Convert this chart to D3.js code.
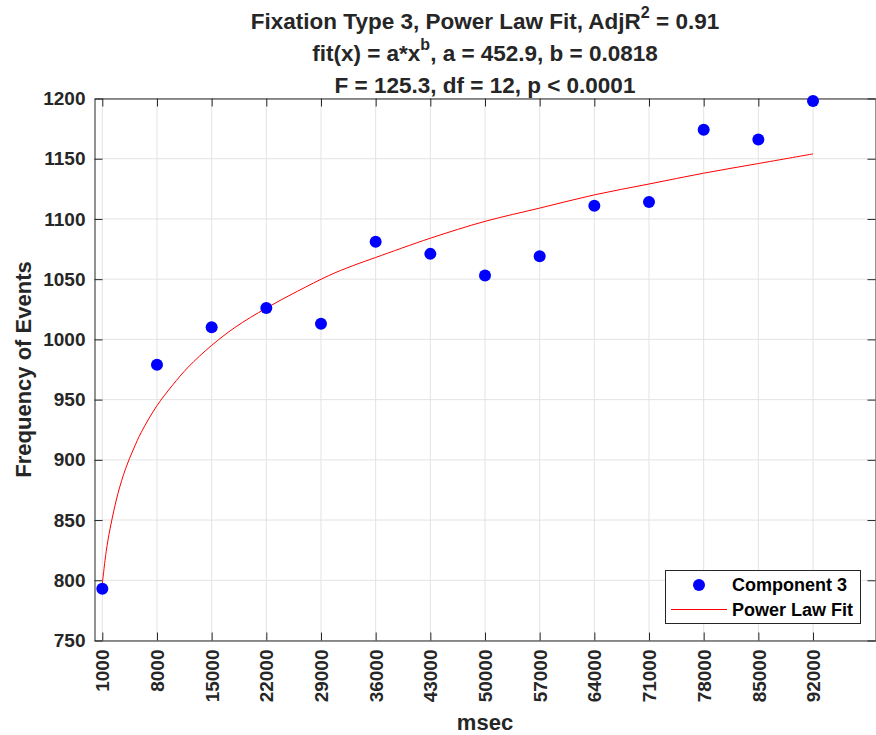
<!DOCTYPE html>
<html>
<head>
<meta charset="utf-8">
<script src="https://cdn.jsdelivr.net/npm/d3@7"></script>
<style>
    body { margin: 0; background: #fff; }
    text { font-family: "Liberation Sans", Arial, sans-serif; font-weight: bold; fill: #262626; }
</style>
</head>
<body>
<svg id="chart" width="876" height="735"></svg>
<script>

// observed points (msec, count)
var xValues = [1000, 8000, 15000, 22000, 29000, 36000, 43000, 50000, 57000, 64000, 71000, 78000, 85000, 92000];
var yValues = [793, 979, 1010, 1026, 1013, 1081, 1071, 1053, 1069, 1111, 1114, 1174, 1166, 1198];

// fitted curve
var fitX = [1000, 1500, 2000, 3000, 4000, 5000, 6000, 8000, 10000, 12000, 15000, 18000, 22000, 26000, 30000, 33000, 36000, 43000, 50000, 57000, 64000, 71000, 78000, 85000, 92000];
var fitY = [797, 824, 843, 872, 893, 909, 923, 945, 962, 977, 995, 1010, 1026, 1040, 1053, 1061, 1068, 1084, 1098, 1109, 1120, 1129, 1138, 1146, 1154];

var yTicks = [750, 800, 850, 900, 950, 1000, 1050, 1100, 1150, 1200];
var titleLines = ["Fixation Type 3, Power Law Fit, AdjR", "fit(x) = a*x", "F = 125.3, df = 12, p < 0.0001"];

function drawChart() {
    var svg = d3.select("#chart");

    var plotLeft = 94.5, plotRight = 875.5, plotTop = 98.5, plotBottom = 640.5;
    var tickLen = 8;

    var xScale = d3.scaleLinear().domain([0, 100000]).range([plotLeft, plotRight]);
    var yScale = d3.scaleLinear().domain([750, 1200]).range([plotBottom, plotTop]);

    // grid
    var grid = svg.append("g");
    grid.selectAll("line.vg")
        .data(xValues)
        .enter()
        .append("line")
        .attr("x1", function(d) { return xScale(d); })
        .attr("x2", function(d) { return xScale(d); })
        .attr("y1", plotTop)
        .attr("y2", plotBottom)
        .attr("stroke", "#e3e3e3");
    grid.selectAll("line.hg")
        .data(yTicks)
        .enter()
        .append("line")
        .attr("y1", function(d) { return yScale(d); })
        .attr("y2", function(d) { return yScale(d); })
        .attr("x1", plotLeft)
        .attr("x2", plotRight)
        .attr("stroke", "#e3e3e3");

    // axes (ticks inward, box on)
    var xAxis = svg.append("g")
        .attr("transform", "translate(0," + plotBottom + ")")
        .call(d3.axisBottom(xScale).tickValues(xValues).tickSizeInner(-tickLen).tickSizeOuter(0).tickFormat(d3.format("d")));
    xAxis.selectAll("text")
        .attr("transform", "rotate(-90)")
        .attr("text-anchor", "end")
        .attr("x", -9)
        .attr("y", 0)
        .attr("dy", "0.35em")
        .style("font-size", "19px");

    svg.append("g")
        .attr("transform", "translate(0," + plotTop + ")")
        .call(d3.axisTop(xScale).tickValues(xValues).tickSizeInner(-tickLen).tickSizeOuter(0).tickFormat(""));

    var yAxis = svg.append("g")
        .attr("transform", "translate(" + plotLeft + ",0)")
        .call(d3.axisLeft(yScale).tickValues(yTicks).tickSizeInner(-tickLen).tickSizeOuter(0).tickFormat(d3.format("d")));
    yAxis.selectAll("text")
        .attr("x", -9)
        .style("font-size", "19px");

    svg.append("g")
        .attr("transform", "translate(" + plotRight + ",0)")
        .call(d3.axisRight(yScale).tickValues(yTicks).tickSizeInner(-tickLen).tickSizeOuter(0).tickFormat(""));

    svg.selectAll(".domain").attr("stroke", "#262626");
    svg.selectAll(".tick line").attr("stroke", "#262626");
    svg.selectAll(".tick text").attr("fill", "#262626").style("font-family", "Liberation Sans, Arial, sans-serif");

    // fit line
    var line = d3.line()
        .x(function(d, i) { return xScale(fitX[i]); })
        .y(function(d) { return yScale(d); })
        .curve(d3.curveCatmullRom.alpha(0.5));

    svg.append("path")
        .datum(fitY)
        .attr("d", line)
        .attr("fill", "none")
        .attr("stroke", "#ff0000")
        .attr("stroke-width", 1);

    // points
    svg.selectAll("circle.pt")
        .data(yValues)
        .enter()
        .append("circle")
        .attr("class", "pt")
        .attr("cx", function(d, i) { return xScale(xValues[i]); })
        .attr("cy", function(d) { return yScale(d); })
        .attr("r", 6)
        .attr("fill", "#0000ff");

    // title
    var cx = (plotLeft + plotRight) / 2;
    var t1 = svg.append("text").attr("x", cx).attr("y", 29).attr("text-anchor", "middle").style("font-size", "22.5px");
    t1.append("tspan").text(titleLines[0]);
    t1.append("tspan").attr("dy", -11).style("font-size", "16px").text("2");
    t1.append("tspan").attr("dy", 11).text(" = 0.91");

    var t2 = svg.append("text").attr("x", cx).attr("y", 61).attr("text-anchor", "middle").style("font-size", "22.5px");
    t2.append("tspan").text(titleLines[1]);
    t2.append("tspan").attr("dy", -11).style("font-size", "16px").text("b");
    t2.append("tspan").attr("dy", 11).text(", a = 452.9, b = 0.0818");

    svg.append("text").attr("x", cx).attr("y", 93).attr("text-anchor", "middle").style("font-size", "22.5px").text(titleLines[2]);

    // axis labels
    svg.append("text")
        .attr("x", cx)
        .attr("y", 730)
        .attr("text-anchor", "middle")
        .style("font-size", "22px")
        .text("msec");

    svg.append("text")
        .attr("transform", "translate(31," + ((plotTop + plotBottom) / 2) + ") rotate(-90)")
        .attr("text-anchor", "middle")
        .style("font-size", "22px")
        .text("Frequency of Events");

    // legend
    var legend = svg.append("g");
    legend.append("rect")
        .attr("x", 665.5)
        .attr("y", 570.5)
        .attr("width", 195)
        .attr("height", 53)
        .attr("fill", "#fff")
        .attr("stroke", "#262626");
    legend.append("circle")
        .attr("cx", 699)
        .attr("cy", 585)
        .attr("r", 6)
        .attr("fill", "#0000ff");
    legend.append("line")
        .attr("x1", 671)
        .attr("x2", 727)
        .attr("y1", 609.5)
        .attr("y2", 609.5)
        .attr("stroke", "#ff0000");
    legend.append("text")
        .attr("x", 732)
        .attr("y", 591)
        .style("font-size", "18px")
        .style("fill", "#000")
        .text("Component 3");
    legend.append("text")
        .attr("x", 732)
        .attr("y", 616)
        .style("font-size", "18px")
        .style("fill", "#000")
        .text("Power Law Fit");
}

drawChart();

</script>
</body>
</html>
